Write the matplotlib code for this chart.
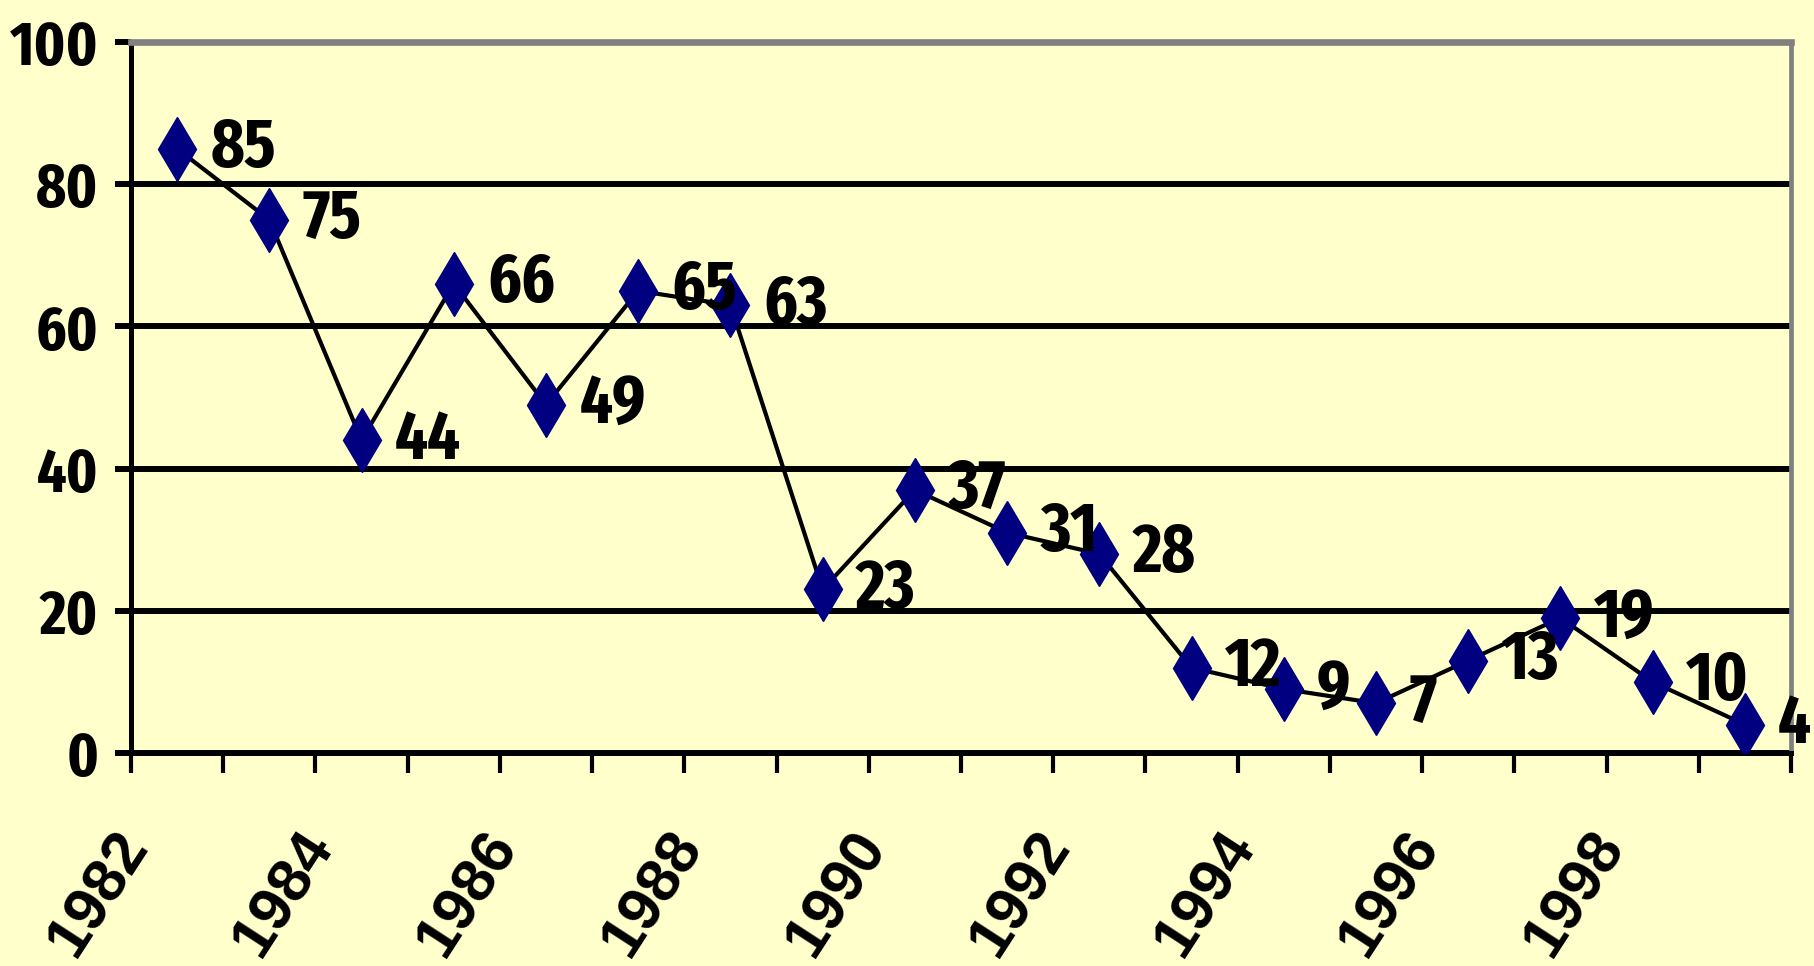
import matplotlib
matplotlib.use('Agg')
import matplotlib.pyplot as plt
import matplotlib.transforms as mtransforms
from matplotlib import font_manager

years = list(range(1982, 2000))
values = [85, 75, 44, 66, 49, 65, 63, 23, 37, 31, 28, 12, 9, 7, 13, 19, 10, 4]
yticks = [0, 20, 40, 60, 80, 100]

bg = '#FFFFCC'
navy = '#000080'

# narrow bold face for the numbers
names = {f.name for f in font_manager.fontManager.ttflist}
narrow_fam = 'Liberation Sans'
for cand in ['Fira Sans Extra Condensed', 'Roboto Condensed', 'PT Sans Narrow']:
  if cand in names:
    narrow_fam = cand
    break
narrow = dict(family=narrow_fam, weight='bold')

fig = plt.figure(figsize=(18.14, 9.66), dpi=100, facecolor=bg)
ax = fig.add_axes([0.0722, 0.2205, 0.9151, 0.736])
ax.set_facecolor(bg)

xs = [i + 0.5 for i in range(len(years))]
ax.plot(xs, values, color='black', linewidth=3, zorder=3)
ax.plot(xs, values, linestyle='none', marker='d', markersize=33,
        markerfacecolor=navy, markeredgecolor=navy, zorder=4)

for x, v in zip(xs, values):
  ax.annotate(str(v), (x, v), xytext=(24, 0), textcoords='offset points',
              ha='left', va='center', fontsize=50, zorder=5,
              annotation_clip=False, **narrow)

ax.set_xlim(0, len(years))
ax.set_ylim(0, 100)

ax.set_yticks(yticks)
ax.set_yticklabels([str(t) for t in yticks], fontsize=45, **narrow)
ax.yaxis.grid(True, color='black', linewidth=4.3)
ax.set_axisbelow(True)

# ticks on category boundaries, year labels on every other boundary
bounds = list(range(len(years) + 1))
ax.set_xticks(bounds)
ax.set_xticklabels([])
shift = mtransforms.ScaledTranslation(29 / 100, -69 / 100, fig.dpi_scale_trans)
for i in range(0, len(years), 2):
  ax.text(bounds[i], 0, str(years[i]), transform=ax.get_xaxis_transform() + shift,
          rotation=57, ha='right', va='top', fontsize=44, fontweight='bold',
          family='Liberation Sans', clip_on=False)

ax.tick_params(axis='y', direction='out', length=11.5, width=4.3, pad=12, color='black')
ax.tick_params(axis='x', direction='out', length=14.5, width=3, color='black')

ax.spines['left'].set_color('black')
ax.spines['left'].set_linewidth(3.6)
ax.spines['bottom'].set_color('black')
ax.spines['bottom'].set_linewidth(3.6)
ax.spines['top'].set_color('#808080')
ax.spines['top'].set_linewidth(4.8)
ax.spines['right'].set_color('#808080')
ax.spines['right'].set_linewidth(3.4)

plt.savefig('out.png', dpi=100, facecolor=bg)
